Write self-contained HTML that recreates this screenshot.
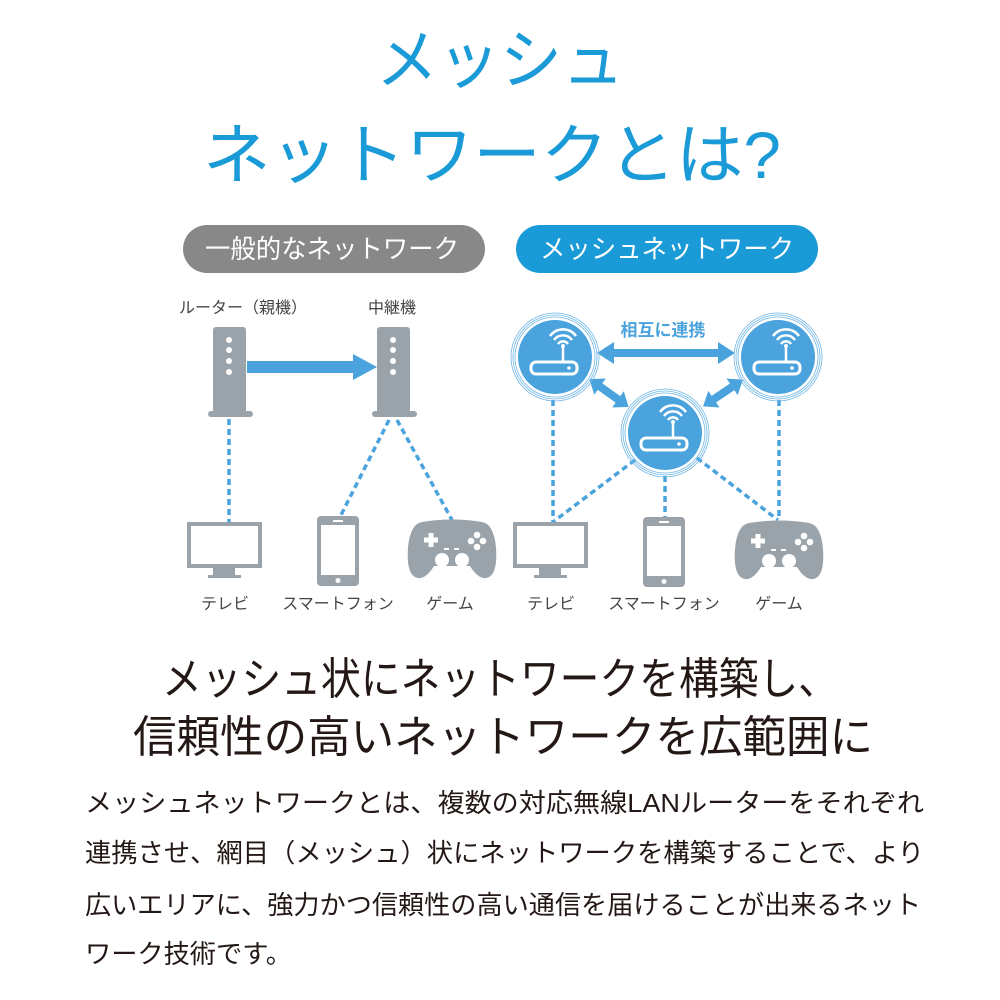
<!DOCTYPE html>
<html><head><meta charset="utf-8"><style>
html,body{margin:0;padding:0;background:#fff;}
svg{display:block;}
text{font-family:"Liberation Sans","Noto Sans CJK JP",sans-serif;}
</style></head><body>
<svg width="1000" height="1000" viewBox="0 0 1000 1000" xmlns="http://www.w3.org/2000/svg">
<defs>
  <g id="gp">
    <path d="M14,4 Q44,-1 74,4 Q86,6 88,30 Q90,58 78,60 Q70,61 62,48 L26,48 Q18,61 10,60 Q-2,58 0,30 Q2,6 14,4 Z" fill="#9aa3aa"/>
    <rect x="16" y="19.5" width="14" height="5" fill="#fff"/>
    <rect x="20.5" y="15" width="5" height="14" fill="#fff"/>
    <circle cx="69" cy="17" r="3.3" fill="#fff"/>
    <circle cx="63" cy="23" r="3.3" fill="#fff"/>
    <circle cx="75" cy="23" r="3.3" fill="#fff"/>
    <circle cx="69" cy="29" r="3.3" fill="#fff"/>
    <rect x="36" y="30" width="5" height="2" fill="#fff"/>
    <rect x="46" y="30" width="5" height="2" fill="#fff"/>
    <circle cx="34" cy="42" r="7" fill="#fff"/>
    <circle cx="54" cy="42" r="7" fill="#fff"/>
  </g>
  <g id="tv">
    <rect x="2" y="2" width="71" height="42" fill="#fff" stroke="#9aa3aa" stroke-width="4"/>
    <rect x="26" y="45" width="22" height="9" fill="#9aa3aa"/>
    <rect x="21" y="53" width="33" height="3" fill="#9aa3aa"/>
  </g>
  <g id="ph">
    <rect x="0" y="0" width="42" height="70" rx="4" fill="#9aa3aa"/>
    <rect x="4" y="9" width="34" height="50" fill="#fff"/>
    <rect x="16" y="4" width="10" height="2" fill="#fff"/>
    <circle cx="21" cy="64.5" r="2.5" fill="#fff"/>
  </g>
  <g id="rt">
    <circle r="44" fill="none" stroke="#6fb6e6" stroke-width="0.8"/>
    <circle r="42" fill="none" stroke="#6fb6e6" stroke-width="0.8"/>
    <circle r="40" fill="none" stroke="#6fb6e6" stroke-width="0.8"/>
    <circle r="37" fill="#4aa3dd"/>
    <rect x="-24" y="5" width="46" height="12" rx="5" fill="none" stroke="#fff" stroke-width="3"/>
    <circle cx="14" cy="11" r="1.8" fill="#fff"/>
    <line x1="8" y1="-10" x2="8" y2="5" stroke="#fff" stroke-width="2.5"/>
    <path d="M3,-13 A6,6 0 0 1 13,-13" fill="none" stroke="#fff" stroke-width="2.5"/>
    <path d="M-1,-17 A11,11 0 0 1 17,-17" fill="none" stroke="#fff" stroke-width="2.5"/>
    <path d="M-5,-21 A16,16 0 0 1 21,-21" fill="none" stroke="#fff" stroke-width="2.5"/>
    <circle cx="8" cy="-11" r="2" fill="#fff"/>
  </g>
  <g id="tower">
    <rect x="5" y="0" width="33" height="86" rx="3" fill="#9aa3aa"/>
    <rect x="0" y="84" width="45" height="6" rx="3" fill="#9aa3aa"/>
    <circle cx="21" cy="13" r="3" fill="#fff"/>
    <circle cx="21" cy="23" r="3" fill="#fff"/>
    <circle cx="21" cy="34" r="3" fill="#fff"/>
    <circle cx="21" cy="45" r="3" fill="#fff"/>
  </g>
</defs>

<!-- Title -->
<text x="500" y="83" font-size="66" fill="#1a9ad6" text-anchor="middle" textLength="248" lengthAdjust="spacingAndGlyphs">メッシュ</text>
<text x="492" y="178" font-size="66" fill="#1a9ad6" text-anchor="middle" textLength="578" lengthAdjust="spacingAndGlyphs">ネットワークとは?</text>

<!-- Pills -->
<rect x="183" y="225" width="302" height="48" rx="24" fill="#888888"/>
<text x="332" y="258" font-size="26" fill="#fff" text-anchor="middle" textLength="254" lengthAdjust="spacingAndGlyphs">一般的なネットワーク</text>
<rect x="516" y="225" width="302" height="48" rx="24" fill="#1a9ad6"/>
<text x="667" y="258" font-size="26" fill="#fff" text-anchor="middle" textLength="254" lengthAdjust="spacingAndGlyphs">メッシュネットワーク</text>

<!-- Left diagram -->
<text x="243" y="313" font-size="16" fill="#444" text-anchor="middle">ルーター（親機）</text>
<text x="392" y="313" font-size="16" fill="#444" text-anchor="middle">中継機</text>
<use href="#tower" x="208" y="327"/>
<use href="#tower" x="372" y="327"/>
<rect x="247" y="361" width="108" height="12" fill="#4aa3dd"/>
<polygon points="353,354 377,367 353,380" fill="#4aa3dd"/>
<g stroke="#4aa3dd" stroke-width="3.5" stroke-dasharray="6,4" fill="none">
  <line x1="229" y1="419" x2="229" y2="522"/>
  <line x1="389" y1="420" x2="340" y2="517"/>
  <line x1="397" y1="420" x2="452" y2="520"/>
</g>
<use href="#tv" x="187" y="522"/>
<use href="#ph" x="317" y="516"/>
<use href="#gp" x="408" y="518"/>
<text x="225" y="609" font-size="16" fill="#444" text-anchor="middle">テレビ</text>
<text x="338" y="609" font-size="16" fill="#444" text-anchor="middle">スマートフォン</text>
<text x="450" y="609" font-size="16" fill="#444" text-anchor="middle">ゲーム</text>

<!-- Right diagram -->
<g stroke="#4aa3dd" stroke-width="3.5" stroke-dasharray="6,4" fill="none">
  <line x1="553" y1="400" x2="553" y2="522"/>
  <line x1="635" y1="460" x2="553" y2="522"/>
  <line x1="665" y1="476" x2="665" y2="517"/>
  <line x1="697" y1="458" x2="778" y2="520"/>
  <line x1="779" y1="400" x2="779" y2="520"/>
</g>
<text x="663" y="336" font-size="17" font-weight="bold" fill="#4aa3dd" text-anchor="middle">相互に連携</text>
<!-- arrows -->
<g fill="#4aa3dd">
  <rect x="612" y="349" width="108" height="8"/>
  <polygon points="597,353 614,342 614,364"/>
  <polygon points="735,353 718,342 718,364"/>
  <g transform="translate(609,393) rotate(35.4)">
    <rect x="-12" y="-4" width="24" height="8"/>
    <polygon points="-24,0 -11,-10 -11,10"/>
    <polygon points="24,0 11,-10 11,10"/>
  </g>
  <g transform="translate(723,393) rotate(-34)">
    <rect x="-12" y="-4" width="24" height="8"/>
    <polygon points="-24,0 -11,-10 -11,10"/>
    <polygon points="24,0 11,-10 11,10"/>
  </g>
</g>
<use href="#rt" x="555" y="357"/>
<use href="#rt" x="778" y="357"/>
<use href="#rt" x="665" y="433"/>
<use href="#tv" x="513" y="522"/>
<use href="#ph" x="643" y="517"/>
<use href="#gp" x="735" y="519"/>
<text x="551" y="609" font-size="16" fill="#444" text-anchor="middle">テレビ</text>
<text x="664" y="609" font-size="16" fill="#444" text-anchor="middle">スマートフォン</text>
<text x="779" y="609" font-size="16" fill="#444" text-anchor="middle">ゲーム</text>

<!-- Headline -->
<text x="162" y="694" font-size="44" fill="#231815" textLength="676" lengthAdjust="spacingAndGlyphs">メッシュ状にネットワークを構築し、</text>
<text x="133" y="752" font-size="44" fill="#231815" textLength="740" lengthAdjust="spacingAndGlyphs">信頼性の高いネットワークを広範囲に</text>

<!-- Body -->
<text x="85" y="812" font-size="26" fill="#231815" textLength="839" lengthAdjust="spacingAndGlyphs">メッシュネットワークとは、複数の対応無線LANルーターをそれぞれ</text>
<text x="85" y="862" font-size="26" fill="#231815" textLength="839" lengthAdjust="spacingAndGlyphs">連携させ、網目（メッシュ）状にネットワークを構築することで、より</text>
<text x="85" y="914" font-size="26" fill="#231815" textLength="836" lengthAdjust="spacingAndGlyphs">広いエリアに、強力かつ信頼性の高い通信を届けることが出来るネット</text>
<text x="85" y="963" font-size="26" fill="#231815" textLength="207" lengthAdjust="spacingAndGlyphs">ワーク技術です。</text>
</svg>
</body></html>
